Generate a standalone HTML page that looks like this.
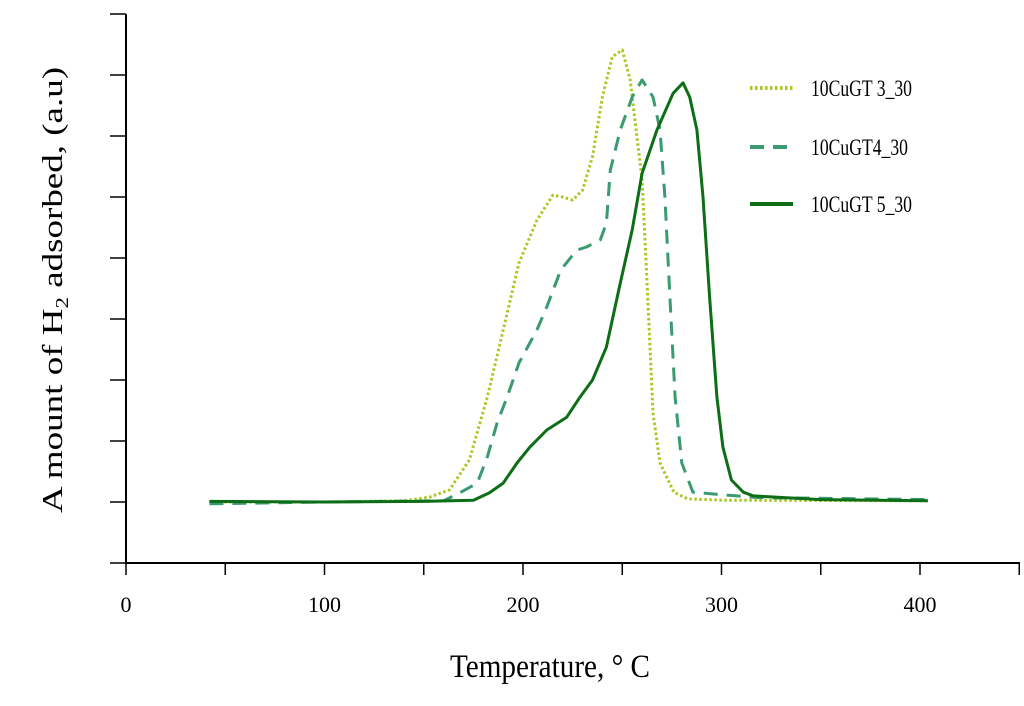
<!DOCTYPE html>
<html><head><meta charset="utf-8"><style>
html,body{margin:0;padding:0;background:#fff;}
svg{display:block;font-family:"Liberation Serif",serif;}
</style></head><body>
<svg id="chart" width="1024" height="706" viewBox="0 0 1024 706">
<g id="axes"></g>
<g id="series"></g>
<g id="legend"></g>
<text x="550" y="677" font-size="33" text-anchor="middle" textLength="200" lengthAdjust="spacingAndGlyphs">Temperature, ° C</text>
<text transform="translate(62,290) rotate(-90)" font-size="29" text-anchor="middle" textLength="446" lengthAdjust="spacingAndGlyphs">A mount of H<tspan font-size="18" dy="6">2</tspan><tspan dy="-6"> adsorbed, (a.u)</tspan></text>
</svg>
<script>
const xTickValues = [0,50,100,150,200,250,300,350,400,450];
const xTickLabels = ["0","100","200","300","400"];
const xLabelValues = [0,100,200,300,400];
const yTickValues = [-1,0,1,2,3,4,5,6,7,8];
const seriesNames = ["10CuGT 3_30","10CuGT4_30","10CuGT 5_30"];
const s1T = [42,100,140,153,163,173,182,190,198,207,215,220,225,230,235,240,245,250,254,257,260,262,264,265.5,269,276,283,300,404];
const s1V = [0,0,0.02,0.08,0.2,0.69,1.72,2.82,3.92,4.62,5.03,5.0,4.95,5.11,5.66,6.64,7.3,7.41,6.92,6.1,5.28,3.92,2.54,1.46,0.64,0.16,0.05,0.03,0.02];
const s2T = [42,100,160,168,177,182,187,192,198,207,212,219,227,232,239,242,244,249,255,260,265.5,269,271.5,274,276.6,280,285.6,300,320,350,404];
const s2V = [-0.03,0,0.02,0.15,0.31,0.74,1.3,1.72,2.28,2.82,3.2,3.8,4.13,4.18,4.3,4.57,5.44,6.1,6.64,6.92,6.64,6.1,5.0,3.36,1.72,0.64,0.16,0.12,0.07,0.06,0.04];
const s3T = [42,100,150,175,183,190,197,203.5,212,222,228.7,235,242,249,255,260,267.5,275.6,280.6,284,287.6,290.7,294,297.7,300.7,305,311,316,350,404];
const s3V = [0.01,0,0.01,0.03,0.15,0.31,0.64,0.9,1.18,1.39,1.72,2.0,2.54,3.59,4.46,5.39,6.1,6.7,6.87,6.64,6.1,5.0,3.36,1.72,0.9,0.36,0.16,0.1,0.04,0.02];

const X0=126, XS=1.985, Y0=502, YS=61;
const xs = t => X0 + XS*t;
const ys = v => Y0 - YS*v;
const NS="http://www.w3.org/2000/svg";
function mk(tag, attrs, parent){const e=document.createElementNS(NS,tag);for(const k in attrs)e.setAttribute(k,attrs[k]);parent.appendChild(e);return e;}
const axes=document.getElementById('axes');
let el=mk('line',{x1:126,y1:ys(-1),x2:1020,y2:ys(-1),stroke:'#000','stroke-width':2},axes);


el=mk('line',{x1:126,y1:ys(8),x2:126,y2:ys(-1),stroke:'#000','stroke-width':2},axes);


xTickValues.forEach(t=>{
  const l=mk('line',{x1:xs(t),y1:ys(-1),x2:xs(t),y2:ys(-1)+12,stroke:'#000','stroke-width':1.5},axes);
  
  
});
xLabelValues.forEach((t,i)=>{
  const tx=mk('text',{x:xs(t),y:612,'font-size':22,'text-anchor':'middle'},axes);
  tx.textContent=xTickLabels[i];
  
  
});
yTickValues.forEach(v=>{
  const l=mk('line',{x1:110,y1:ys(v),x2:126,y2:ys(v),stroke:'#000','stroke-width':1.5},axes);
  
  
});
const styles=[
  {stroke:'#a9c820',w:3,dash:'2.5 2.5'},
  {stroke:'#3a9a70',w:3,dash:'14 9'},
  {stroke:'#0d6e17',w:3,dash:''}
];
const data=[[s1T,s1V],[s2T,s2V],[s3T,s3V]];
const names=['series-10cugt3-30','series-10cugt4-30','series-10cugt5-30'];
const ser=document.getElementById('series');
data.forEach((d,i)=>{
  const pts=d[0].map((t,j)=>xs(t).toFixed(1)+','+ys(d[1][j]).toFixed(1)).join(' ');
  const p=mk('polyline',{points:pts,fill:'none',stroke:styles[i].stroke,'stroke-width':styles[i].w,'stroke-dasharray':styles[i].dash,'stroke-linejoin':'round'},ser);
  
  
});
const leg=document.getElementById('legend');
const legY=[88,147,204];
seriesNames.forEach((n,i)=>{
  const l=mk('line',{x1:750,y1:legY[i],x2:793,y2:legY[i],stroke:styles[i].stroke,'stroke-width':styles[i].w+1,'stroke-dasharray':styles[i].dash},leg);
  
  
  const t=mk('text',{x:811,y:legY[i]+8,'font-size':23,textLength:i===1?97:101,lengthAdjust:'spacingAndGlyphs'},leg);
  t.textContent=n;
  
  
});
</script>
</body></html>
